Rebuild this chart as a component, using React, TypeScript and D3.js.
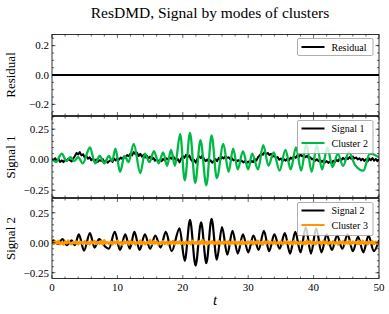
import React from "react";
import * as d3 from "d3";

const W = 389, H = 314;
const TITLE = "ResDMD, Signal by modes of clusters";
const X_TICKS = [0, 10, 20, 30, 40, 50];
const STEP = 0.25;

const residual = [0, 50];
const residualVals = [0, 0];

// Signal 1 (noisy black), sampled every 0.25
const signal1 = [
  0.010, -0.005, 0.012, -0.012, 0.004, -0.018, -0.006, -0.020, 0.002, -0.010, 0.008, -0.004,
  -0.015, 0.010, 0.030, 0.055, 0.042, 0.062, 0.035, 0.045, 0.018, 0.030, 0.008, 0.020,
  -0.005, 0.010, -0.012, 0.002, -0.018, -0.004, -0.010, 0.006, -0.022, -0.008, -0.025, -0.012,
  -0.002, -0.018, 0.008, -0.006, 0.012, 0.000, 0.018, 0.006, 0.025, 0.015, 0.038, 0.028,
  0.050, 0.035, 0.062, 0.045, 0.058, 0.030, 0.048, 0.025, 0.040, 0.018, 0.032, 0.010,
  0.025, 0.005, 0.015, -0.008, 0.004, -0.015, -0.002, -0.012, 0.006, -0.006, 0.012, 0.002,
  0.020, 0.008, 0.028, 0.012, -0.010, 0.005, -0.022, 0.010, 0.030, 0.015, 0.040, 0.022,
  0.035, 0.000, -0.015, -0.002, -0.025, 0.010, 0.028, 0.012, 0.035, 0.005, -0.012, 0.002,
  -0.018, -0.005, -0.025, -0.010, 0.005, -0.012, 0.015, 0.002, 0.022, 0.010, 0.028, 0.015,
  0.020, 0.004, 0.012, -0.006, 0.000, -0.014, -0.004, -0.018, -0.008, -0.022, -0.012, -0.026,
  -0.015, -0.028, -0.010, -0.020, 0.005, -0.008, 0.020, 0.035, 0.050, 0.040, 0.062, 0.045,
  0.055, 0.038, 0.048, 0.025, 0.035, 0.012, 0.022, 0.000, 0.010, -0.012, 0.004, -0.008,
  0.010, -0.004, 0.018, 0.006, 0.028, 0.015, 0.035, 0.022, 0.042, 0.028, 0.038, 0.020,
  0.032, 0.012, 0.020, 0.002, 0.010, -0.008, 0.004, -0.012, -0.002, -0.018, -0.006, -0.022,
  -0.012, -0.026, -0.015, -0.030, -0.010, -0.020, 0.000, -0.012, 0.010, -0.004, 0.015, 0.002,
  0.018, 0.005, 0.022, 0.008, 0.025, 0.010, 0.018, 0.002, 0.012, -0.006, 0.008, -0.010,
  0.004, -0.014, 0.010, -0.005, 0.014, -0.008, 0.006, -0.012, 0.004,
];

// Cluster 3 (orange noise), sampled every 0.25
const cluster3 = [
  0.008, -0.010, 0.012, -0.006, 0.015, -0.012, 0.004, -0.015, 0.010, -0.004, 0.018, -0.008,
  -0.012, 0.006, -0.004, 0.010, -0.014, 0.008, 0.002, -0.010, 0.012, -0.006, 0.004, -0.012,
  0.010, -0.004, 0.014, -0.010, 0.006, -0.008, 0.012, -0.014, 0.020, -0.006, 0.004, -0.010,
  0.008, -0.012, 0.010, -0.004, 0.016, -0.010, 0.006, -0.016, 0.012, -0.004, 0.008, -0.012,
  0.014, -0.008, 0.010, -0.014, 0.004, -0.006, 0.018, -0.010, 0.008, -0.012, 0.006, -0.004,
  0.022, -0.010, 0.012, -0.006, 0.010, -0.014, 0.004, -0.008, 0.012, -0.010, 0.006, -0.012,
  0.010, -0.006, 0.014, -0.012, 0.008, -0.004, 0.012, -0.010, 0.006, -0.014, 0.010, -0.006,
  0.008, -0.012, 0.016, -0.008, 0.004, -0.010, 0.012, -0.006, 0.022, -0.012, 0.008, -0.014,
  0.010, -0.004, 0.012, -0.010, 0.006, -0.012, 0.014, -0.008, 0.004, -0.010, 0.010, -0.006,
  0.012, -0.014, 0.008, -0.006, 0.010, -0.010, 0.006, -0.012, 0.014, -0.008, 0.004, -0.010,
  0.010, -0.006, 0.012, -0.012, 0.008, -0.004, 0.016, -0.010, 0.006, -0.014, 0.010, -0.006,
  0.014, -0.010, 0.006, -0.008, 0.012, -0.012, 0.004, -0.006, 0.010, -0.014, 0.008, -0.004,
  0.012, -0.010, 0.008, -0.012, 0.014, -0.006, 0.004, -0.010, 0.010, -0.008, 0.006, -0.012,
  0.018, -0.008, 0.012, -0.010, 0.006, -0.014, 0.010, -0.004, 0.008, -0.012, 0.014, -0.006,
  0.010, -0.012, 0.006, -0.008, 0.012, -0.010, 0.004, -0.014, 0.010, -0.006, 0.012, -0.010,
  0.008, -0.006, 0.014, -0.012, 0.010, -0.004, 0.006, -0.010, 0.012, -0.008, 0.016, -0.010,
  0.006, -0.012, 0.010, -0.004, 0.012, -0.010, 0.008, -0.006, 0.004,
];

// Cluster 2 (green) extrema
const cluster2T = [
  0.0, 0.6, 1.5, 2.2, 2.8, 3.4, 4.0, 4.7, 5.8, 6.6, 7.3, 8.0, 8.7, 9.2, 9.7, 10.4, 11.1, 11.7,
  12.5, 13.5, 14.2, 14.9, 15.6, 16.3, 17.0, 17.6, 18.2, 18.8, 19.6, 20.3, 21.1, 21.9, 22.7, 23.6,
  24.4, 25.2, 26.2, 27.0, 27.7, 28.4, 29.2, 30.0, 30.6, 31.5, 32.3, 33.1, 33.9, 34.8, 35.7, 36.5,
  37.3, 38.1, 38.9, 39.7, 40.5, 41.3, 42.1, 42.9, 43.7, 44.5, 45.4, 46.3, 47.6, 48.6, 50.0,
];
const cluster2V = [
  0.01, -0.02, 0.05, -0.01, 0.02, -0.01, 0.02, -0.03, 0.10, -0.03, 0.03, -0.03, 0.03, -0.01, 0.09, -0.10, 0.03, -0.02,
  0.13, -0.11, 0.05, -0.02, 0.07, -0.03, 0.06, -0.05, 0.08, -0.05, 0.21, -0.17, 0.22, -0.19, 0.16, -0.21,
  0.20, -0.15, 0.13, -0.10, 0.09, -0.08, 0.07, -0.08, 0.05, -0.08, 0.12, -0.05, 0.06, -0.09, 0.08, -0.08,
  0.10, -0.09, 0.13, -0.10, 0.12, -0.08, 0.10, -0.06, 0.05, -0.05, 0.06, -0.04, -0.09, 0.05, 0.02,
];

// Signal 2 (black, bottom panel) extrema
const signal2T = [
  0.0, 0.2, 0.9, 1.6, 2.3, 3.0, 3.5, 4.1, 4.9, 5.8, 6.5, 7.2, 8.1, 8.7, 9.6, 10.4, 11.2, 11.9,
  12.6, 13.4, 14.2, 15.0, 15.8, 16.6, 17.4, 18.3, 19.5, 20.3, 21.1, 21.95, 22.8, 23.6, 24.4,
  25.2, 26.0, 26.8, 27.6, 28.4, 29.2, 30.0, 30.8, 31.6, 32.4, 33.2, 34.0, 34.8, 35.6, 36.4,
  37.2, 38.0, 38.8, 39.6, 40.4, 41.2, 42.0, 42.8, 43.6, 44.4, 45.2, 46.0, 46.8, 47.6, 48.4, 49.2, 50.0,
];
const signal2V = [
  0.0, 0.02, -0.01, 0.03, -0.02, 0.02, -0.02, 0.07, -0.065, 0.08, -0.04, 0.03, -0.03, -0.05, 0.09, -0.06, 0.07, -0.05,
  0.09, -0.06, 0.07, -0.05, 0.06, -0.04, 0.09, -0.07, 0.12, -0.15, 0.19, -0.19, 0.17, -0.17, 0.20,
  -0.14, 0.13, -0.10, 0.10, -0.09, 0.07, -0.08, 0.06, -0.06, 0.10, -0.07, 0.07, -0.05, 0.08, -0.09,
  0.09, -0.08, 0.13, -0.09, 0.12, -0.08, 0.07, -0.06, 0.06, -0.05, 0.07, -0.07, 0.05, -0.08, 0.06, -0.07, 0.02,
];

const BLACK = "#000000";
const GREEN = "#00B945";
const ORANGE = "#FF9500";
const SERIF = "'Liberation Serif', 'Times New Roman', serif";

const X0 = 52, X1 = 379;

type Series = { name: string; t: number[]; v: number[]; color: string; width: number; curve: any };

const panels = [
  {
    label: "Residual", top: 34.5, bottom: 115.5, domain: [-0.276, 0.276],
    major: [-0.2, 0, 0.2], fmt: (d: number) => d3.format(".1f")(d).replace("-", "\u2212"),
    series: [{ name: "Residual", t: residual, v: residualVals, color: BLACK, width: 2, curve: d3.curveLinear }],
  },
  {
    label: "Signal 1", top: 116.5, bottom: 197.5, domain: [-0.31, 0.354],
    major: [-0.25, 0, 0.25], fmt: (d: number) => d3.format(".2f")(d).replace("-", "\u2212"),
    series: [
      { name: "Signal 1", t: signal1.map((_, i) => i * STEP), v: signal1, color: BLACK, width: 2, curve: d3.curveLinear },
      { name: "Cluster 2", t: cluster2T, v: cluster2V, color: GREEN, width: 2.3, curve: d3.curveMonotoneX },
    ],
  },
  {
    label: "Signal 2", top: 198.5, bottom: 278.5, domain: [-0.298, 0.369],
    major: [-0.25, 0, 0.25], fmt: (d: number) => d3.format(".2f")(d).replace("-", "\u2212"),
    series: [
      { name: "Signal 2", t: signal2T, v: signal2V, color: BLACK, width: 2.2, curve: d3.curveMonotoneX },
      { name: "Cluster 3", t: cluster3.map((_, i) => i * STEP), v: cluster3, color: ORANGE, width: 2.6, curve: d3.curveLinear },
    ],
  },
];

const x = d3.scaleLinear().domain([0, 50]).range([X0, X1]);

function Panel({ p, idx }: { p: any; idx: number }) {
  const y = d3.scaleLinear().domain(p.domain).range([p.bottom, p.top]);
  const xMinor = d3.range(0, 50.001, 2);
  const yMinor = d3.range(-0.3, 0.4, 0.05).filter((v) => v >= p.domain[0] && v <= p.domain[1]);
  const clipId = `clip${idx}`;
  const legendTop = p.top + 4;
  const n = p.series.length;
  const lh = 14.5;
  const boxH = n === 1 ? 17 : 33;
  const lx = 297.5, lw = 75.5;
  return (
    <g>
      <defs>
        <clipPath id={clipId}>
          <rect x={X0} y={p.top} width={X1 - X0} height={p.bottom - p.top} />
        </clipPath>
      </defs>
      <g clipPath={`url(#${clipId})`}>
        {p.series.map((s: Series, i: number) => {
          const line = d3.line<number>().x((_, j) => x(s.t[j])).y((d) => y(d)).curve(s.curve);
          return <path key={i} d={line(s.v) || ""} fill="none" stroke={s.color} strokeWidth={s.width} strokeLinejoin="round" />;
        })}
      </g>
      {/* legend */}
      <rect x={lx} y={legendTop} width={lw} height={boxH} rx={1.5} fill="white" fillOpacity={0.8} stroke="#999" strokeWidth={0.8} />
      {p.series.map((s: Series, i: number) => {
        const cy = legendTop + (n === 1 ? boxH / 2 : 8 + i * lh);
        return (
          <g key={i}>
            <line x1={lx + 4} x2={lx + 27} y1={cy} y2={cy} stroke={s.color} strokeWidth={2} />
            <text x={lx + 34} y={cy + 3.5} fontFamily={SERIF} fontSize={10} fill="#000">{s.name}</text>
          </g>
        );
      })}
      {/* frame */}
      <rect x={X0} y={p.top} width={X1 - X0} height={p.bottom - p.top} fill="none" stroke="#000" strokeWidth={0.8} />
      {/* x ticks */}
      {xMinor.map((t, i) => {
        const isMajor = Math.abs(t % 10) < 1e-6;
        const len = isMajor ? 3.5 : 2;
        return (
          <g key={"xt" + i} stroke="#000" strokeWidth={0.6}>
            <line x1={x(t)} x2={x(t)} y1={p.bottom} y2={p.bottom - len} />
            <line x1={x(t)} x2={x(t)} y1={p.top} y2={p.top + len} />
          </g>
        );
      })}
      {/* y ticks */}
      {yMinor.map((v, i) => (
        <g key={"ym" + i} stroke="#000" strokeWidth={0.6}>
          <line x1={X0} x2={X0 + 2} y1={y(v)} y2={y(v)} />
          <line x1={X1} x2={X1 - 2} y1={y(v)} y2={y(v)} />
        </g>
      ))}
      {p.major.map((v: number, i: number) => (
        <g key={"yM" + i}>
          <line x1={X0} x2={X0 + 3.5} y1={y(v)} y2={y(v)} stroke="#000" strokeWidth={0.6} />
          <line x1={X1} x2={X1 - 3.5} y1={y(v)} y2={y(v)} stroke="#000" strokeWidth={0.6} />
          <text x={X0 - 3} y={y(v) + 3.8} textAnchor="end" fontFamily={SERIF} fontSize={11} fill="#000">{p.fmt(v)}</text>
        </g>
      ))}
      <text transform={`translate(15,${(p.top + p.bottom) / 2}) rotate(-90)`} textAnchor="middle" fontFamily={SERIF} fontSize={13} fill="#000">{p.label}</text>
    </g>
  );
}

export default function App() {
  const last = panels[panels.length - 1];
  return (
    <svg width={W} height={H} style={{ display: "block", position: "absolute", left: 0, top: 0 }}>
      <rect width={W} height={H} fill="white" />
      <text x={210} y={18} textAnchor="middle" fontFamily={SERIF} fontSize={15.5} fill="#000">{TITLE}</text>
      {panels.map((p, i) => <Panel key={i} p={p} idx={i} />)}
      {X_TICKS.map((t) => (
        <text key={t} x={x(t)} y={last.bottom + 12.5} textAnchor="middle" fontFamily={SERIF} fontSize={11} fill="#000">{t}</text>
      ))}
      <text x={215} y={305} textAnchor="middle" fontFamily={SERIF} fontSize={15} fontStyle="italic" fill="#000">t</text>
    </svg>
  );
}
